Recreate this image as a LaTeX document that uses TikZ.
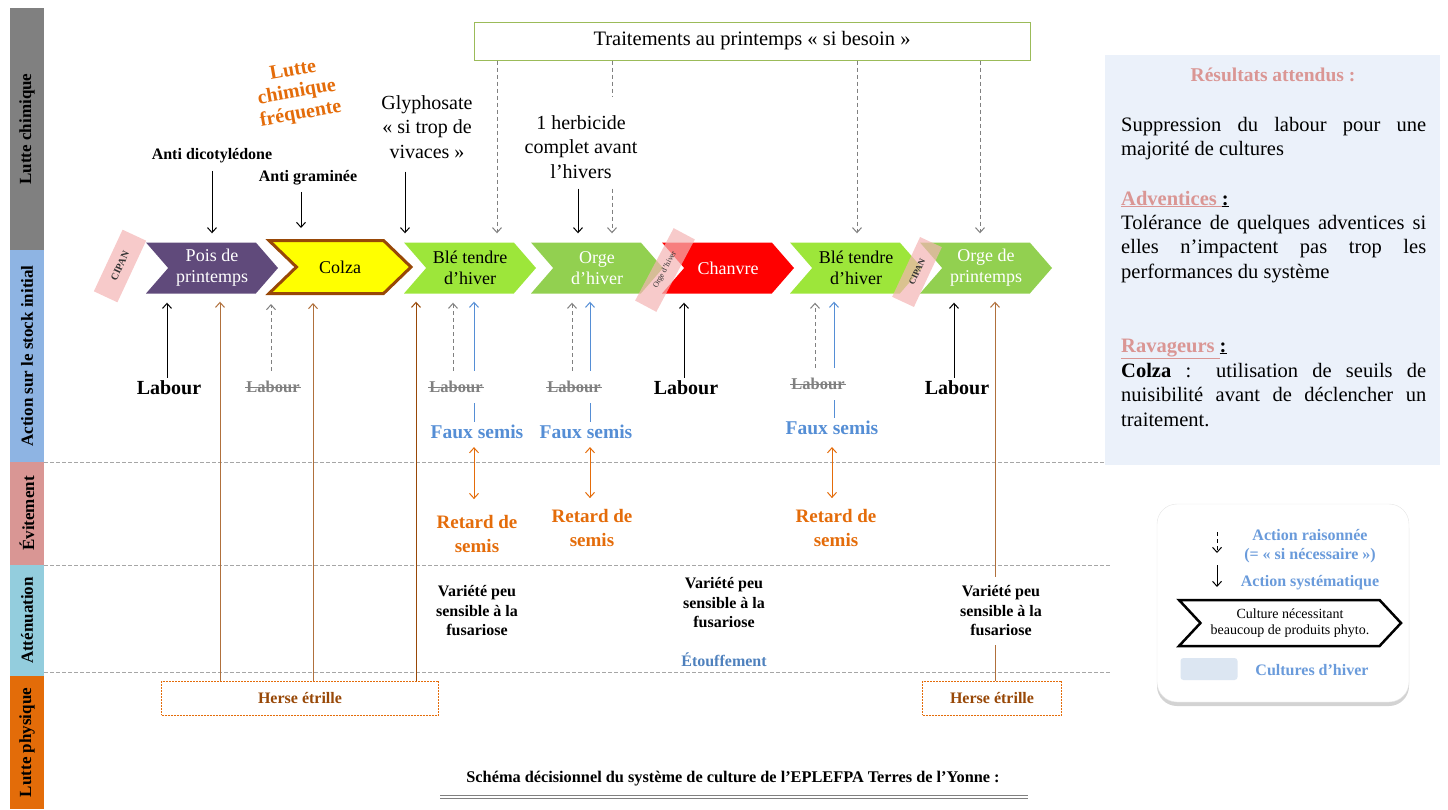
\documentclass[tikz,border=0pt]{standalone}
\usepackage{fontspec}
\setmainfont{Liberation Serif}
\usetikzlibrary{shapes.symbols,arrows.meta,shadows}

\hyphenpenalty=10000
\newcommand{\fs}[2]{\fontsize{#1}{#2}\selectfont}

\definecolor{cgris}{HTML}{808080}
\definecolor{cbandebleu}{HTML}{8EB4E3}
\definecolor{cbanderose}{HTML}{D99694}
\definecolor{cbandecyan}{HTML}{93CDDD}
\definecolor{cbandeorange}{HTML}{E36C09}
\definecolor{cpois}{HTML}{604A7B}
\definecolor{cjaune}{HTML}{FFFF00}
\definecolor{cbrun}{HTML}{984807}
\definecolor{cble}{HTML}{9DE63A}
\definecolor{corge}{HTML}{92D050}
\definecolor{crouge}{HTML}{FF0000}
\definecolor{crose}{HTML}{F4B4B4}
\definecolor{cbleu}{HTML}{558ED5}
\definecolor{corange}{HTML}{E46C0A}
\definecolor{cfleche}{HTML}{B0703C}
\definecolor{cetouf}{HTML}{4F81BD}
\definecolor{colive}{HTML}{9BBB59}
\definecolor{cpanneau}{HTML}{EBF1FA}
\definecolor{ctitre}{HTML}{DA9694}
\definecolor{clegende}{HTML}{6A9BDB}
\definecolor{chiver}{HTML}{DCE6F2}
\definecolor{cligne}{HTML}{A6A6A6}

\begin{document}
\begin{tikzpicture}[x=1pt, y=-1pt,
	>={Straight Barb[length=5pt,width=9pt]},
	bandeau/.style={rotate=90, minimum height=34pt, inner sep=0pt, font=\fs{17}{19}\bfseries},
	culture/.style={signal, signal to=east, signal from=west, signal pointer angle=98,
		minimum width=132pt, minimum height=51pt, inner sep=0pt, align=center, font=\fs{18}{21}},
	cipan/.style={fill=crose, fill opacity=0.7, text opacity=1, minimum height=24pt,
		inner sep=0pt, text=black!80},
	syst/.style={->, line width=1pt, shorten >=9pt},
	raison/.style={->, line width=1pt, dash pattern=on 4pt off 3pt, shorten >=9pt},
	faux/.style={->, cbleu, line width=1pt, shorten >=8pt},
	retard/.style={<->, corange, line width=1pt},
	physique/.style={->, cfleche, line width=1pt, shorten >=8pt},
	sep/.style={cligne, line width=0.8pt, dash pattern=on 4pt off 2pt},
	labour/.style={font=\fs{20}{22}\bfseries, inner sep=3pt},
	barre/.style={font=\fs{16.5}{18}\bfseries, text=cgris, fill=white, inner xsep=1pt, inner ysep=10pt},
	rature/.style={cgris, line width=1pt},
	semis/.style={font=\fs{19.5}{22}\bfseries, text=cbleu, inner sep=3pt},
	delai/.style={font=\fs{19}{24}\bfseries, text=corange, align=center, inner sep=2pt},
	variete/.style={font=\fs{16}{19.5}\bfseries, align=center, inner xsep=2pt, inner ysep=9pt},
	herse/.style={draw=corange, dash pattern=on 2pt off 1pt, line width=0.7pt, minimum height=34pt,
		font=\fs{16}{18}\bfseries, text=cbrun},
	produit/.style={font=\fs{16}{18}\bfseries},
	remarque/.style={font=\fs{20}{24.5}, align=center},
	paragraphe/.style={anchor=north west, text width=305pt, align=justify, inner sep=0pt, font=\fs{20.5}{24.3}},
	rubrique/.style={anchor=base west, inner sep=0pt, font=\fs{20.5}{24}\bfseries, text=ctitre},
	legtxt/.style={font=\fs{16}{19}\bfseries, text=clegende, align=center}
]
	\useasboundingbox (0,0) rectangle (1448,809);

	% bandeaux
	\node[bandeau, fill=cgris, minimum width=242pt] (bchim) at (27,129) {Lutte chimique};
	\node[bandeau, fill=cbandebleu, minimum width=212pt] (bstock) at (27,356) {Action sur le stock initial};
	\node[bandeau, fill=cbanderose, minimum width=103pt] (bevit) at (27,513.5) {Évitement};
	\node[bandeau, fill=cbandecyan, minimum width=111pt] (batt) at (27,620.5) {Atténuation};
	\node[bandeau, fill=cbandeorange, minimum width=133pt] (bphys) at (27,742.5) {Lutte physique};

	% separations
	\draw[sep] (44,462) -- (1110,462);
	\draw[sep] (44,565) -- (1110,565);
	\draw[sep] (44,672) -- (1110,672);

	% cultures
	\node[cipan, rotate=65, minimum width=68pt, minimum height=26pt, font=\fs{10}{12}\bfseries] (cipan1) at (120,266) {CIPAN};
	\node[culture, fill=cpois, text=white] (pois) at (212,268) {Pois de\\printemps};
	\node[culture, fill=cjaune, draw=cbrun, line width=3pt, minimum width=142pt, minimum height=53pt,
		signal pointer angle=88] (colza) at (340,267) {Colza};
	\node[culture, fill=cble] (ble1) at (470,268) {Blé tendre\\d’hiver};
	\node[culture, fill=corge, text=white] (orgeh) at (597,268) {Orge\\d’hiver};
	\node[culture, fill=crouge, text=white] (chanvre) at (728,268) {Chanvre};
	\node[culture, fill=cble] (ble2) at (856,268) {Blé tendre\\d’hiver};
	\node[culture, fill=corge, text=white] (orgep) at (986,268) {Orge de\\printemps};
	\node[cipan, rotate=62, minimum width=82pt, font=\fs{8}{9}] (tagorge) at (665,270) {Orge d’hiver};
	\node[cipan, rotate=65, minimum width=66pt, font=\fs{9}{10}\bfseries] (cipan2) at (917,272) {CIPAN};

	% lutte chimique
	\node[draw=colive, line width=1pt, minimum width=556pt, minimum height=38pt, font=\fs{20.5}{22}]
		(trait) at (752,41) {Traitements au printemps « si besoin »};
	\node[font=\fs{20}{22}\bfseries, text=corange, align=center, rotate=10] (frequente) at (297,93)
		{Lutte\\chimique\\fréquente};
	\node[produit] (antidi) at (212,156) {Anti dicotylédone};
	\node[produit] (antigr) at (308,178) {Anti graminée};
	\node[remarque, inner sep=5pt] (glypho) at (427,127) {Glyphosate\\« si trop de\\vivaces »};
	\node[remarque, inner xsep=2pt, inner ysep=10pt] (herb) at (581,147) {1 herbicide\\complet avant\\l’hivers};

	\draw[syst, shorten <=4pt] (antidi.south) -- (antidi.south |- pois.north);
	\draw[syst, shorten <=3pt, shorten >=11pt] (antigr.south -| 301,0) -- (301,0 |- colza.north);
	\draw[syst, shorten <=8pt] (glypho.south -| 405,0) -- (405,0 |- ble1.north);
	\draw[syst] (herb.south -| 578,0) -- (578,0 |- orgeh.north);

	\draw[raison, cgris] (trait.south -| 497,0) -- (497,0 |- ble1.north);
	\draw[raison, cgris, -] (trait.south -| 612,0) -- (612,0 |- herb.north);
	\draw[raison, cgris] (herb.south -| 612,0) -- (612,0 |- orgeh.north);
	\draw[raison, cgris] (trait.south -| 857,0) -- (857,0 |- ble2.north);
	\draw[raison, cgris] (trait.south -| 980,0) -- (980,0 |- orgep.north);

	% herse etrille
	\node[herse, minimum width=277pt] (herse1) at (300,698) {Herse étrille};
	\node[herse, minimum width=139pt] (herse2) at (992,698) {Herse étrille};
	\draw[physique] (herse1.north -| 220,0) -- (220,0 |- pois.south);
	\draw[physique] (herse1.north -| 313,0) -- (313,0 |- colza.south);
	\draw[physique, cbrun] (herse1.north -| 416,0) -- (416,0 |- ble1.south);
	\draw[physique] (herse2.north -| 995,0) -- (995,0 |- orgep.south);

	% faux semis
	\node[semis] (faux1) at (477,432) {Faux semis};
	\node[semis] (faux2) at (586,432) {Faux semis};
	\node[semis] (faux3) at (832,428) {Faux semis};
	\draw[faux] (faux1.north -| 474,0) -- (474,0 |- ble1.south);
	\draw[faux] (faux2.north -| 590,0) -- (590,0 |- orgeh.south);
	\draw[faux] (faux3.north -| 834,0) -- (834,0 |- ble2.south);

	% labour
	\node[labour] (lab1) at (169,388) {Labour};
	\node[barre] (lab2) at (273,387) {Labour};
	\node[barre] (lab3) at (456,387) {Labour};
	\node[barre] (lab4) at (574,387) {Labour};
	\node[labour] (lab5) at (686,388) {Labour};
	\node[barre] (lab6) at (818,384) {Labour};
	\node[labour] (lab7) at (957,388) {Labour};
	\draw[rature] (lab2.west) -- (lab2.east);
	\draw[rature] (lab3.west) -- (lab3.east);
	\draw[rature] (lab4.west) -- (lab4.east);
	\draw[rature] (lab6.west) -- (lab6.east);
	\draw[syst] (lab1.north -| 167,0) -- (167,0 |- pois.south);
	\draw[raison, cgris] (lab2.north -| 271,0) -- (271,0 |- colza.south);
	\draw[raison, cgris] (lab3.north -| 453,0) -- (453,0 |- ble1.south);
	\draw[raison, cgris] (lab4.north -| 572,0) -- (572,0 |- orgeh.south);
	\draw[syst] (lab5.north -| 684,0) -- (684,0 |- chanvre.south);
	\draw[raison, cgris] (lab6.north -| 815,0) -- (815,0 |- ble2.south);
	\draw[syst] (lab7.north -| 954,0) -- (954,0 |- orgep.south);

	% retard de semis
	\node[delai] (retard1) at (477,534) {Retard de\\semis};
	\node[delai] (retard2) at (592,528) {Retard de\\semis};
	\node[delai] (retard3) at (836,528) {Retard de\\semis};
	\draw[retard, shorten <=5pt, shorten >=14pt] (faux1.south -| 474,0) -- (474,0 |- retard1.north);
	\draw[retard, shorten <=5pt, shorten >=9pt] (faux2.south -| 590,0) -- (590,0 |- retard2.north);
	\draw[retard, shorten <=9pt, shorten >=9pt] (faux3.south -| 832,0) -- (832,0 |- retard3.north);

	% attenuation
	\node[variete] (var1) at (477,611) {Variété peu\\sensible à la\\fusariose};
	\node[variete] (var2) at (724,603) {Variété peu\\sensible à la\\fusariose};
	\node[variete, fill=white] (var3) at (1001,611) {Variété peu\\sensible à la\\fusariose};
	\node[font=\fs{16}{18}\bfseries, text=cetouf] (etouf) at (724,660) {Étouffement};

	% titre
	\node[font=\fs{16.3}{18}\bfseries] (titre) at (733,779)
		{Schéma décisionnel du système de culture de l’EPLEFPA Terres de l’Yonne :};
	\draw[cgris, line width=0.6pt] (440,795) -- (1028,795);
	\draw[cgris, line width=0.6pt] (440,798) -- (1028,798);

	% resultats attendus
	\node[fill=cpanneau, minimum width=335pt, minimum height=410pt, inner sep=0pt] (panneau) at (1272.5,260) {};
	\node[font=\fs{19.5}{21}\bfseries, text=ctitre] (resultats) at (1273,75) {Résultats attendus :};
	\node[paragraphe] (suppression) at (1121,117) {Suppression du labour pour une majorité de cultures};
	\node[rubrique] (adventices) at (1121,205) {\underline{Adventices }\textcolor{black}{\underline{:}}};
	\node[paragraphe] (tolerance) at (1121,215) {Tolérance de quelques adventices si\linebreak elles n’impactent pas trop les performances du système};
	\node[rubrique] (ravageurs) at (1121,352) {\underline{Ravageurs }\textcolor{black}{\underline{:}}};
	\node[paragraphe] (colzatxt) at (1121,363) {\textbf{Colza} : utilisation de seuils de nuisibilité avant de déclencher un traitement.};

	% legende
	\node[fill=white, draw=black!10, rounded corners=20pt, minimum width=252pt, minimum height=198pt,
		drop shadow={shadow xshift=0pt, shadow yshift=-4pt, opacity=0.35}] (legende) at (1283,603) {};
	\coordinate (lr) at (1217,532);
	\coordinate (ls) at (1217,565);
	\draw[raison, shorten >=0pt] (lr) -- ++(0,21);
	\draw[syst, shorten >=0pt] (ls) -- ++(0,22);
	\node[legtxt] (lraison) at (1310,546) {Action raisonnée\\(= « si nécessaire »)};
	\node[legtxt] (lsyst) at (1310,583) {Action systématique};
	\node[culture, fill=white, draw=black, line width=2.5pt, minimum width=222pt, minimum height=46pt,
		signal pointer angle=94, font=\fs{14}{16}] (lchev) at (1290,623) {Culture nécessitant\\beaucoup de produits phyto.};
	\node[fill=chiver, rounded corners=3pt, minimum width=57pt, minimum height=22pt] (lhiver) at (1209,669) {};
	\node[legtxt] (lhivertxt) at (1312,670) {Cultures d’hiver};

\end{tikzpicture}
\end{document}
